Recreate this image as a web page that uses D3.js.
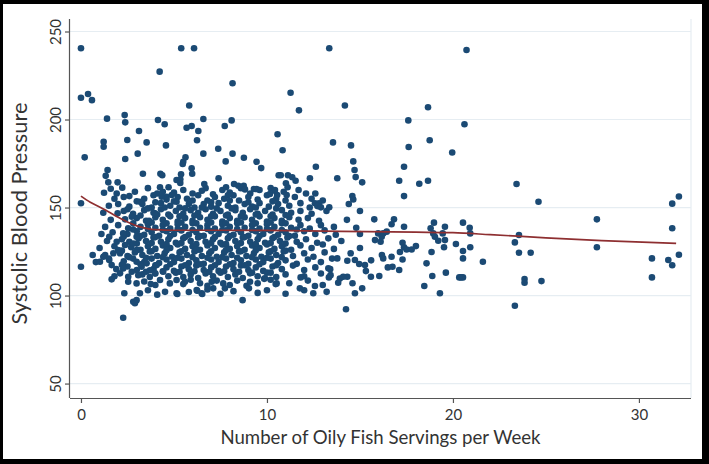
<!DOCTYPE html>
<html><head><meta charset="utf-8">
<script src="https://cdn.jsdelivr.net/npm/d3@7"></script>
<style>body{margin:0;background:#000;} svg{display:block}</style>
</head><body>
<svg id="c" width="709" height="464"></svg>
<script>
const xTicks = [0, 10, 20, 30];
const yTicks = [50, 100, 150, 200, 250];
const xTitle = "Number of Oily Fish Servings per Week";
const yTitle = "Systolic Blood Pressure";

// scattered / outlying observations [servings, sbp]
const outlierPoints = [
[0,240.5],[0,212.4],[0.38,214.5],[0.59,211],[1.4,200.5],[0.2,178.5],[1.22,187.4],[1.22,184.5],[2.35,202.5],[2.38,198.4],[2.49,188.4],[2.38,177.6],[3.12,193.5],[3.05,180.6],[3.53,187],[3.33,169.2],[4.23,227.2],[4.14,199.7],[4.5,197.3],[4.57,185.3],[5.39,240.5],[6.08,240.5],[5.82,208],[5.68,195.3],[5.95,196.3],[6.31,193.5],[6.24,188.2],[6.58,200.3],[6.58,180.6],[5.62,178.5],[5.5,176],[5.47,174.7],[5.95,172.3],[5.98,169.2],[5.38,168.9],[5.34,166],[5.34,164],[4.27,169.2],[4.37,168.3],[1.43,171.3],[1.33,168],[1.47,164.3],[1.97,164.3],[2.22,161.3],[1.6,160.7],[4.25,161.5],[4.71,161.5],[6.63,163.4],[7.38,183.4],[7.4,166.6],[7.78,176.2],[7.73,196.3],[8.1,199.5],[8.15,220.6],[8.15,180.6],[8.76,178.3],[9.44,176],[9.69,172.4],[7.8,161.5],[8.23,163.4],[8.46,162.4],[8.75,162.4],[8.82,160.3],[9.44,160.5],[10.57,191.6],[10.63,168.3],
[10.84,182.5],[11.27,215.2],[11.72,205.2],[13.35,240.5],[14.19,208],[13.55,187],[14.52,185.3],[12.63,173.2],[12.31,166.6],[13.78,166.6],[14.64,176.2],[14.71,171.3],[14.77,167.3],[15.12,164.3],[10.74,168.3],[11.13,168.3],[11.36,167.2],[11.54,165.2],[11.02,163.8],[11.11,161.5],[10.43,160],[17.6,199.5],[18.66,207],[17.62,184.4],[18.75,188.2],[17.37,173.2],[17.11,165.2],[18.19,163.5],[18.66,165.2],[19.96,181.3],[20.62,197.3],[20.73,239.5],[23.42,163.4]
];
const rightPoints = [
[24.6,153.3],[20.54,141.4],[20.9,138.5],[20.93,135.3],[20.54,125.3],[20.54,121.1],[20.54,110.3],[20.43,110.3],[20.93,127.4],[21.61,119.2],[23.55,134.4],[23.33,130.2],[23.55,124.3],[24.18,124.3],[23.85,109.4],[23.85,107.3],[24.76,108.2],[23.33,94.2],[27.74,143.3],[27.74,127.4],[30.7,121.1],[30.7,110.3],[31.58,120.2],[31.79,117.2],[32.15,123.2],[31.79,152.2],[32.15,156.3],[31.79,138.2],
[17.37,156.5],[14.59,156.5],[14.64,154.6],[10.41,159.5],[10.16,157.7],[10.55,157.1],[11.06,157.1],[12.6,158],[12.58,152.4],[12.8,152.4],[12.71,150.8],[12.9,150.1],[13.35,150.1],[15.77,143.3],[16.83,143.3],[16.7,140.5],[17.37,139.1],[18.98,141.4],[19.57,139.1],[18.8,138.2],[18.94,135.3],[19.45,135.3],[19.03,133.4],[19.57,131.5],[19.21,131.1],[20.16,129.3],[19.52,127.4],[18.85,124.7],[18.58,118.3],[18.89,111.1],[19.62,113],[20.34,110.3],[18.46,105.4],[19.3,101.3],
[17.29,130],[17.37,127.4],[17.15,124.7],[17.51,126.2],[17.29,120.5],[16.7,122],[16.18,123],[16.25,121.1],[16.75,116.4],[17.11,114.5],[18.01,128.1],[17.78,126.2],[15.98,135.3],[15.81,131.5],[16.17,133.4],[16.25,135.3],[16.44,136.3],[16.11,130.6],[15.59,110.7],[16.04,111.1],[15.32,113.9],[15.27,117.3],[15.12,104.1],[14.73,101.3],[14.25,92.2],[14.32,110.7],[13.92,109.7],[13.83,107.3],[14.1,110.7],[13.21,102.1],[12.49,101.3],[12.58,105.4],[11.77,104.1],[11.81,110.3],[10.47,106.5],[9.85,109.5],[13.33,110.3],[13.42,111.6],[13.3,115.5],[13.78,121.1],[14.32,119.8],[14.73,120.2],[14.96,117.9]
];
const leftPoints = [
[0,152.4],[1.24,158.4],[1.92,158],[2.6,156.5],[3.17,153.3],[1.97,146.7],[2.37,143.3],[2.73,144.8],[2.81,141],[3.66,142.5],[3.98,146.7],[4.6,156.1],[4.34,156.1],[5.14,165.6],[4.88,157.1],[5.14,153.3],[1.52,133.4],[1.92,130.6],[2.27,135.3],[2.54,138.2],[2.99,133.4],[2.81,129.6],[2.37,128.7],
[0,116.4],[0.63,123],[1.02,119.2],[1.2,122],[1.52,120.2],[1.65,117.3],[1.74,124],[2.0,125.8],[1.65,109.2],[2.1,112.6],[2.27,115.4],[2.54,110.7],[2.73,113.5],[2.99,119.2],[3.08,111.6],[2.54,107.8],[2.99,106.9],[3.75,106.5],[2.33,101.3],[3.17,101.3],[2.81,96.5],[2.99,97.4],[2.9,95.6],[2.27,87.4],[3.26,116.4],[3.53,118.3],[3.71,114.4],[4.07,117.3],[3.98,112.6],[4.42,113.5],[4.25,108.8],[4.52,102.1],[4.78,106.9],[5.14,101.3],
[5.59,107.8],[5.14,108.8],[6.22,103.1],[6.49,101.3],[7.11,104.1],[7.03,107.8],[7.65,106.9],[7.74,104.1],[8.69,97.4],[9.03,104.1],[9.09,107.8],[9.09,112.6],[9.89,109.8],[10.52,106.9],[5.18,100.9],[6.25,102.7],[6.52,100.9]
];
// dense central cloud (estimated)
const cloudPoints = [
[2.9,159],[3.6,161],[4.1,158],[5.5,160],[6.0,158],[6.7,161],[7.1,157.5],[7.6,160],[8.0,158.5],[8.6,161],[9.1,158],[9.6,160],[10.2,161],[10.9,159],[11.7,160],[12.1,158],
[1.8,155],[2.3,156],[3.4,155],[3.9,157],[4.6,154.5],[5.2,156],[5.7,155],[6.3,157],[6.8,154],[7.2,156],[7.7,155],[8.2,157],[8.5,154],[9.0,156],[9.5,154.5],[10.0,157],[10.5,155],[11.0,154],[11.5,156],[12.4,155],[13.0,154],
[1.5,151],[2.0,152],[2.6,150.5],[3.3,152],[3.8,150],[4.3,152.5],[4.8,151],[5.3,150],[5.8,152],[6.1,150],[6.6,152],[7.0,150.5],[7.4,152.5],[7.9,151],[8.3,150],[8.8,152],[9.2,150.5],[9.6,152.5],[10.1,150.5],[10.6,152],[11.2,151],[11.8,152.5],[12.3,150],[14.4,152],
[1.2,147],[2.3,148],[2.8,146.5],[3.4,148.5],[3.9,147],[4.3,149],[4.7,146],[5.1,148],[5.5,146.5],[5.9,148.5],[6.3,147],[6.7,149],[7.1,146.5],[7.5,148],[7.9,146],[8.3,148.5],[8.7,147],[9.1,149],[9.5,146.5],[9.9,148],[10.3,146],[10.8,148.5],[11.3,147],[11.8,148],[12.4,146.5],[13.2,148],[15.0,148],
[1.6,143],[3.0,144],[3.5,142.5],[4.0,144.5],[4.4,143],[4.8,145],[5.2,142],[5.6,144],[6.0,142.5],[6.4,144.5],[6.8,143],[7.2,145],[7.6,142],[8.0,144],[8.4,142.5],[8.8,144.5],[9.2,143],[9.6,145],[10.0,142],[10.4,144],[10.8,142.5],[11.2,144.5],[11.7,143],[12.2,144],[12.8,142.5],[14.3,143],
[1.3,139],[2.0,140],[3.2,139],[3.6,140.5],[4.0,138.5],[4.4,140],[4.8,138],[5.2,140.5],[5.6,139],[6.0,141],[6.4,138.5],[6.8,140],[7.2,138],[7.6,140.5],[8.0,139],[8.4,141],[8.8,138.5],[9.2,140],[9.6,138],[10.0,140.5],[10.4,139],[10.8,141],[11.3,138.5],[11.8,140],[12.3,138],[12.9,140],[13.6,139],[14.8,138.5],
[1.1,135],[1.7,136],[2.5,135],[3.0,136.5],[3.4,134.5],[3.8,136],[4.2,134],[4.6,136.5],[5.0,135],[5.4,137],[5.8,134.5],[6.2,136],[6.6,134],[7.0,136.5],[7.4,135],[7.8,137],[8.2,134.5],[8.6,136],[9.0,134],[9.4,136.5],[9.8,135],[10.2,137],[10.6,134.5],[11.0,136],[11.5,134],[12.0,136.5],[12.6,135],[13.1,137],[13.7,134.5],[15.0,135],
[1.4,131],[2.2,132],[2.6,130.5],[3.1,132.5],[3.5,131],[3.9,133],[4.3,130.5],[4.7,132],[5.1,130],[5.5,132.5],[5.9,131],[6.3,133],[6.7,130.5],[7.1,132],[7.5,130],[7.9,132.5],[8.3,131],[8.7,133],[9.1,130.5],[9.5,132],[9.9,130],[10.3,132.5],[10.7,131],[11.1,133],[11.6,130.5],[12.1,132],[12.7,130],[13.3,132.5],[14.0,131],
[1.0,127],[1.8,128],[2.7,127.5],[3.2,126],[3.6,128],[4.0,126.5],[4.4,128.5],[4.8,127],[5.2,129],[5.6,126.5],[6.0,128],[6.4,126],[6.8,128.5],[7.2,127],[7.6,129],[8.0,126.5],[8.4,128],[8.8,126],[9.2,128.5],[9.6,127],[10.0,129],[10.4,126.5],[10.8,128],[11.3,126],[11.8,128.5],[12.4,127],[13.0,129],[13.6,126.5],[15.0,127],
[1.3,123],[2.1,124],[2.5,122.5],[2.9,124.5],[3.3,123],[3.7,125],[4.1,122.5],[4.5,124],[4.9,122],[5.3,124.5],[5.7,123],[6.1,125],[6.5,122.5],[6.9,124],[7.3,122],[7.7,124.5],[8.1,123],[8.5,125],[8.9,122.5],[9.3,124],[9.7,122],[10.1,124.5],[10.5,123],[10.9,125],[11.4,122.5],[12.0,124],[12.5,122],[13.1,124.5],[14.5,124],
[0.8,119],[1.5,121],[2.3,119.5],[2.8,121],[3.4,119],[3.8,121],[4.2,118.5],[4.6,120.5],[5.0,119],[5.4,121],[5.8,118.5],[6.2,120],[6.6,118],[7.0,120.5],[7.4,119],[7.8,121],[8.2,118.5],[8.6,120],[9.0,118],[9.4,120.5],[9.8,119],[10.2,121],[10.6,118.5],[11.0,120],[11.6,118],[12.2,120.5],[12.9,119],[13.5,121],[15.6,120],
[1.9,115],[2.5,116.5],[3.0,114.5],[3.9,115],[4.6,116],[5.0,114],[5.4,116.5],[5.8,115],[6.2,117],[6.6,114.5],[7.0,116],[7.4,114],[7.8,116.5],[8.2,115],[8.6,117],[9.0,114.5],[9.4,116],[9.8,114],[10.3,116.5],[10.8,115],[11.4,117],[12.0,114.5],[12.6,116],[13.4,115],[16.5,116],
[1.8,111],[3.3,112],[3.7,110.5],[4.0,112.5],[4.7,111],[5.1,113],[5.5,110.5],[5.9,112],[6.3,110],[6.7,112.5],[7.1,111],[7.5,113],[7.9,110.5],[8.3,112],[8.7,110],[9.5,111],[10.0,113],[10.5,110.5],[11.0,112],[12.0,111],[12.9,112.5],
[3.4,108],[4.0,106],[5.5,106.5],[5.9,109],[6.4,107],[6.8,105.5],[7.3,108.5],[8.0,106],[8.4,108.5],[8.9,105.5],[9.5,107],[10.2,109],[11.2,107],[12.2,108.5],[13.0,106],[14.6,107],
[3.6,103],[4.1,100.5],[5.8,102],[6.8,103.5],[7.5,101],[8.2,102.5],[9.5,101.5],[10.0,103],[11.0,101],[12.0,103]
];
// extra points filling the solid core of the cloud (estimated)
const corePoints = [
[4.4,159],[5.0,158.5],[6.5,159.5],[7.9,157],[9.3,160.5],
[3.0,153.5],[4.0,153],[5.0,153.5],[6.0,154],[7.0,153],[8.0,154],[9.0,153],[10.3,153.5],
[2.5,149],[3.6,149.5],[4.5,150],[5.6,149.5],[6.5,150],[7.3,149.5],[8.1,149.5],[9.4,150],[10.5,149.5],
[3.2,145.5],[4.1,146],[5.3,145],[6.1,145.5],[7.0,145],[7.8,145.5],[8.6,145],[9.4,146],[10.2,145],[11.0,145.8],
[3.8,141.5],[4.6,141],[5.4,141.5],[6.2,141],[7.0,141.5],[7.8,141],[8.6,141.5],[9.4,141],[10.2,141.5],[11.0,141],
[2.8,137.5],[3.6,137.8],[4.4,137.2],[5.2,137.8],[6.0,137.2],[6.8,137.8],[7.6,137.2],[8.4,137.8],[9.2,137.2],[10.0,137.8],[10.8,137.2],[11.6,137.5],
[2.3,133.5],[3.2,133.8],[4.0,133.2],[4.8,133.8],[5.6,133.2],[6.4,133.8],[7.2,133.2],[8.0,133.8],[8.8,133.2],[9.6,133.8],[10.4,133.2],[11.2,133.8],
[3.0,129.5],[3.8,129.8],[4.6,129.2],[5.4,129.8],[6.2,129.2],[7.0,129.8],[7.8,129.2],[8.6,129.8],[9.4,129.2],[10.2,129.8],[11.0,129.5],
[2.2,125.5],[3.0,125.8],[3.8,125.2],[4.6,125.8],[5.4,125.2],[6.2,125.8],[7.0,125.2],[7.8,125.8],[8.6,125.2],[9.4,125.8],[10.2,125.2],[11.0,125.5],
[2.6,121.8],[3.5,121.5],[4.4,121.8],[5.2,121.5],[6.0,121.8],[6.8,121.5],[7.6,121.8],[8.4,121.5],[9.2,121.8],[10.0,121.5],[10.8,121.8],
[2.2,117.5],[3.2,117.8],[4.0,117.2],[4.8,117.8],[5.6,117.2],[6.4,117.8],[7.2,117.2],[8.0,117.8],[8.8,117.2],[9.6,117.8],[10.5,117.2],
[3.5,113.5],[4.4,113.8],[5.3,113.5],[6.1,113.8],[6.9,113.5],[7.7,113.8],[8.5,113.5],[9.2,113],[10.2,113]
];
// lowess smoother
const fitX = [0, 0.5, 1, 1.5, 2, 2.5, 3, 3.5, 4, 5, 7, 10, 14, 18, 20, 22, 25, 28, 32];
const fitY = [156.5, 153, 150.3, 147.5, 144.5, 141.8, 139.6, 138.2, 137.4, 137.1, 137.1, 137, 136.5, 136, 135.7, 134.6, 132.8, 131.2, 129.6];

const svg = d3.select("#c");
const FONT = "Lato, 'Open Sans', sans-serif";
const W = 709, H = 464;
svg.append("rect").attr("x",0).attr("y",0).attr("width",W).attr("height",H).attr("fill","#000");
svg.append("rect").attr("x",3).attr("y",4).attr("width",699).attr("height",455).attr("fill","#fff");

const L = 70, R = 691, T = 19, B = 398;
const x = d3.scaleLinear().domain([-0.59, 32.8]).range([L, R]);
const y = d3.scaleLinear().domain([41.8, 257.1]).range([B, T]);

// gridlines
svg.append("g").selectAll("line").data(yTicks).join("line")
  .attr("x1", L).attr("x2", R).attr("y1", d=>y(d)).attr("y2", d=>y(d))
  .attr("stroke", "#e6edf2").attr("stroke-width", 1.2);
// right border of plot region
svg.append("line").attr("x1",R).attr("x2",R).attr("y1",T).attr("y2",B)
  .attr("stroke","#e6edf2").attr("stroke-width",1.2);

// points
const allPts = [].concat(cloudPoints, corePoints, leftPoints, rightPoints, outlierPoints);
svg.append("g").selectAll("circle").data(allPts).join("circle")
  .attr("cx", d=>x(d[0])).attr("cy", d=>y(d[1])).attr("r", 3.3)
  .attr("fill", "#1b4a74");

// fit line
const line = d3.line().x(d=>x(d[0])).y(d=>y(d[1])).curve(d3.curveMonotoneX);
svg.append("path").datum(fitX.map((v,i)=>[v, fitY[i]]))
  .attr("d", line).attr("fill","none").attr("stroke","#8e2f31").attr("stroke-width",1.7);

// axes
const axisColor = "#555";
const gx = svg.append("g").attr("transform", `translate(0,${B})`)
  .call(d3.axisBottom(x).tickValues(xTicks).tickSize(5).tickPadding(6).tickFormat(d3.format("d")));
gx.select(".domain").attr("stroke", axisColor).attr("stroke-width",1.2).attr("d", `M${L},0.5H${R}`);
gx.selectAll(".tick line").attr("stroke", axisColor).attr("stroke-width",1.2);
gx.selectAll(".tick text").attr("font-family", FONT).attr("font-size", 15).attr("fill", "#333");

const gy = svg.append("g").attr("transform", `translate(${L},0)`)
  .call(d3.axisLeft(y).tickValues(yTicks).tickSize(5).tickFormat(d3.format("d")));
gy.select(".domain").attr("stroke", axisColor).attr("stroke-width",1.2).attr("d", `M-0.5,${T}V${B}`);
gy.selectAll(".tick line").attr("stroke", axisColor).attr("stroke-width",1.2);
gy.selectAll(".tick text").attr("font-family", FONT).attr("font-size", 15).attr("fill", "#333")
  .attr("x", null).attr("dy", null)
  .attr("text-anchor", "middle")
  .attr("transform", "translate(-9,0) rotate(-90)");

function fit(sel, target) {
  let fs = parseFloat(sel.attr("font-size"));
  for (let i=0;i<4;i++){
    const w = sel.node().getComputedTextLength();
    if (w>0) { fs = fs*target/w; sel.attr("font-size", fs); }
  }
  return fs;
}
const xt = svg.append("text").attr("x", (L+R)/2).attr("y", 444)
  .attr("text-anchor","middle").attr("font-family",FONT).attr("font-size",17).attr("fill","#333").text(xTitle);
fit(xt, 320);
const yt = svg.append("text").attr("transform", `translate(27,${(T+B)/2+5}) rotate(-90)`)
  .attr("text-anchor","middle").attr("font-family",FONT).attr("font-size",17).attr("fill","#333").text(yTitle);
fit(yt, 222);
</script>
</body></html>
